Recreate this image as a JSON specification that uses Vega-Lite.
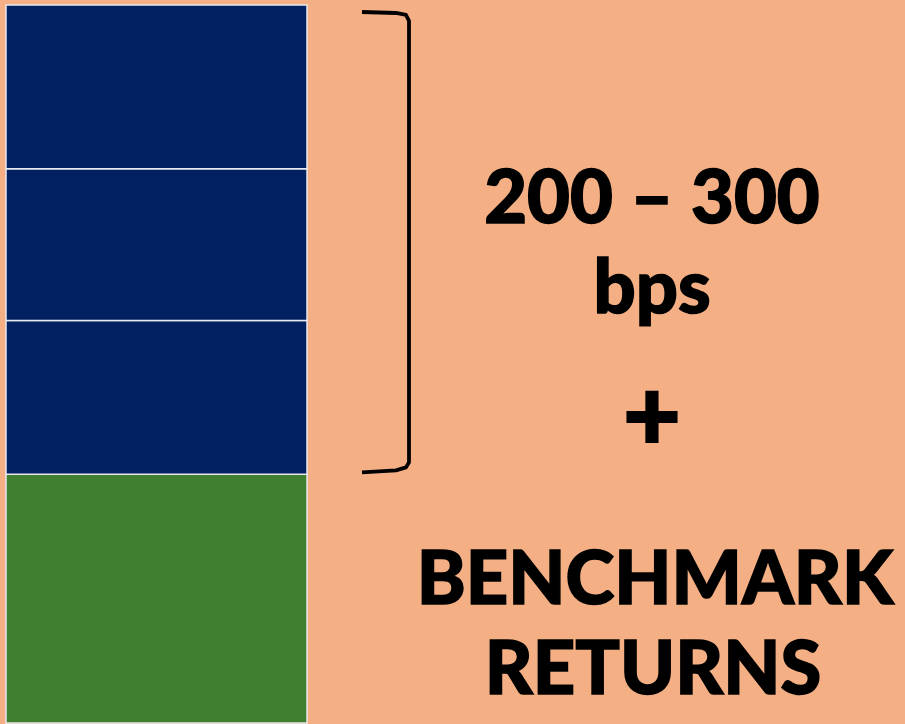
{
  "$schema": "https://vega.github.io/schema/vega-lite/v6.json",
  "width": 905,
  "height": 724,
  "autosize": {"type": "fit", "contains": "padding"},
  "padding": 0,
  "background": "#F4B084",
  "config": {"view": {"stroke": null}},
  "datasets": {
    "blocks": [
      {"segment": "Benchmark", "order": 1, "y0": 0, "y1": 249, "x0": 6, "x1": 307},
      {"segment": "Alpha 1", "order": 2, "y0": 249, "y1": 403, "x0": 6, "x1": 307},
      {"segment": "Alpha 2", "order": 3, "y0": 403, "y1": 555, "x0": 6, "x1": 307},
      {"segment": "Alpha 3", "order": 4, "y0": 555, "y1": 719, "x0": 6, "x1": 307}
    ],
    "bracket": [
      {"i": 1, "bx": 362, "by": 712},
      {"i": 2, "bx": 396, "by": 711},
      {"i": 3, "bx": 406, "by": 709},
      {"i": 4, "bx": 409, "by": 703},
      {"i": 5, "bx": 409, "by": 261},
      {"i": 6, "bx": 406, "by": 256},
      {"i": 7, "bx": 396, "by": 253},
      {"i": 8, "bx": 362, "by": 251}
    ],
    "labels": [
      {"text": "200 – 300", "tx": 652, "ty": 501},
      {"text": "bps", "tx": 652, "ty": 411},
      {"text": "BENCHMARK", "tx": 655, "ty": 119},
      {"text": "RETURNS", "tx": 653, "ty": 29}
    ],
    "plus": [
      {"text": "+", "tx": 652, "ty": 273}
    ]
  },
  "layer": [
    {
      "data": {"name": "blocks"},
      "mark": {"type": "rect", "stroke": "#E8E8F0", "strokeWidth": 1.5},
      "encoding": {
        "x": {"field": "x0", "type": "quantitative", "scale": {"domain": [0, 905], "nice": false, "zero": false}, "axis": null},
        "x2": {"field": "x1"},
        "y": {"field": "y0", "type": "quantitative", "scale": {"domain": [0, 724], "nice": false, "zero": false}, "axis": null},
        "y2": {"field": "y1"},
        "color": {
          "field": "segment",
          "type": "nominal",
          "scale": {"domain": ["Benchmark", "Alpha 1", "Alpha 2", "Alpha 3"], "range": ["#3F7F2F", "#002060", "#002060", "#002060"]},
          "legend": null
        }
      }
    },
    {
      "data": {"name": "bracket"},
      "mark": {"type": "line", "color": "#000000", "strokeWidth": 3.8, "strokeJoin": "round", "strokeCap": "butt"},
      "encoding": {
        "x": {"field": "bx", "type": "quantitative"},
        "y": {"field": "by", "type": "quantitative"},
        "order": {"field": "i", "type": "quantitative"}
      }
    },
    {
      "data": {"name": "labels"},
      "mark": {"type": "text", "font": "Lato", "fontWeight": 900, "fontSize": 74, "color": "#000000", "stroke": "#000000", "strokeWidth": 1.5, "align": "center", "baseline": "alphabetic"},
      "encoding": {
        "x": {"field": "tx", "type": "quantitative"},
        "y": {"field": "ty", "type": "quantitative"},
        "text": {"field": "text", "type": "nominal"}
      }
    },
    {
      "data": {"name": "plus"},
      "mark": {"type": "text", "font": "Lato", "fontWeight": 900, "fontSize": 100, "color": "#000000", "stroke": "#000000", "strokeWidth": 2, "align": "center", "baseline": "alphabetic"},
      "encoding": {
        "x": {"field": "tx", "type": "quantitative"},
        "y": {"field": "ty", "type": "quantitative"},
        "text": {"field": "text", "type": "nominal"}
      }
    }
  ]
}
